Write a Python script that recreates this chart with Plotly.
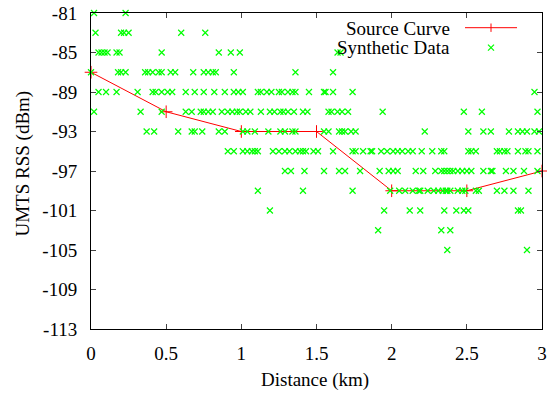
import plotly.graph_objects as go

# Source curve
src_x = [0, 0.5, 1.0, 1.5, 2.0, 2.5, 3.0]
src_y = [-87, -91, -93, -93, -99, -99, -97]

# Synthetic data, grouped by RSS level (dBm): distances (km)
syn_rows = {
    -81: [0.02, 0.23],
    -83: [0.03, 0.20, 0.22, 0.25, 0.60, 0.76],
    -85: [0.05, 0.07, 0.09, 0.11, 0.17, 0.19, 0.47, 0.85, 0.93, 0.99, 1.64, 1.66],
    -87: [0.0, 0.18, 0.20, 0.23, 0.36, 0.38, 0.41, 0.45, 0.47, 0.53, 0.56, 0.68,
          0.75, 0.78, 0.81, 0.83, 0.95, 1.36, 1.61],
    -89: [0.05, 0.10, 0.17, 0.31, 0.41, 0.43, 0.47, 0.51, 0.54, 0.63, 0.69, 0.75,
          0.82, 0.89, 0.95, 0.98, 1.01, 1.11, 1.13, 1.17, 1.20, 1.25, 1.27, 1.31,
          1.34, 1.36, 1.45, 1.55, 1.56, 1.61, 1.74, 2.95],
    -91: [0.02, 0.33, 0.47, 0.63, 0.67, 0.73, 0.75, 0.78, 0.81, 0.87, 0.91, 0.94,
          0.97, 0.99, 1.03, 1.06, 1.13, 1.19, 1.22, 1.26, 1.28, 1.31, 1.35, 1.41,
          1.44, 1.58, 1.60, 1.64, 1.67, 1.71, 1.94, 2.48, 2.60, 2.97],
    -93: [0.37, 0.42, 0.58, 0.67, 0.69, 0.74, 0.85, 0.89, 1.01, 1.04, 1.09, 1.18,
          1.26, 1.29, 1.34, 1.36, 1.55, 1.58, 1.65, 1.67, 1.69, 1.73, 1.76, 2.22,
          2.51, 2.61, 2.66, 2.78, 2.84, 2.87, 2.90, 2.95, 2.98],
    -95: [0.91, 0.95, 1.01, 1.04, 1.07, 1.09, 1.11, 1.21, 1.25, 1.29, 1.32, 1.36,
          1.39, 1.41, 1.43, 1.48, 1.51, 1.61, 1.74, 1.76, 1.81, 1.86, 1.87, 1.93,
          1.97, 2.01, 2.04, 2.07, 2.11, 2.14, 2.20, 2.27, 2.33, 2.35, 2.51, 2.53,
          2.56, 2.70, 2.72, 2.75, 2.77, 2.84, 2.89, 2.91, 2.97],
    -97: [1.29, 1.33, 1.42, 1.55, 1.65, 1.69, 1.79, 1.92, 1.98, 2.01, 2.04, 2.16,
          2.21, 2.29, 2.33, 2.35, 2.37, 2.39, 2.41, 2.44, 2.47, 2.50, 2.53, 2.61,
          2.66, 2.67, 2.76, 2.81, 2.88, 2.97],
    -99: [1.11, 1.41, 1.74, 1.99, 2.05, 2.09, 2.14, 2.18, 2.19, 2.24, 2.28, 2.31,
          2.34, 2.36, 2.37, 2.39, 2.44, 2.47, 2.49, 2.56, 2.58, 2.70, 2.75, 2.81,
          2.91],
    -101: [1.19, 1.95, 2.12, 2.19, 2.35, 2.43, 2.48, 2.51, 2.84, 2.86],
    -103: [1.91, 2.33, 2.39],
    -105: [2.37, 2.90],
}

x_ticks = [0, 0.5, 1, 1.5, 2, 2.5, 3]
x_tick_text = ["0", "0.5", "1", "1.5", "2", "2.5", "3"]
y_ticks = [-113, -109, -105, -101, -97, -93, -89, -85, -81]

syn_x = []
syn_y = []
for level, xs in syn_rows.items():
    syn_x.extend(xs)
    syn_y.extend([level] * len(xs))

FONT = "Liberation Serif"
W, H = 547, 394
ML, MR, MT, MB = 91, 5, 13, 65
PW, PH = W - ML - MR, H - MT - MB


def px(xp):
    return (xp - ML) / PW


def py(yp):
    return (H - MB - yp) / PH


fig = go.Figure()
fig.add_trace(go.Scatter(
    x=src_x, y=src_y, mode="lines+markers", name="Source Curve",
    line=dict(color="#ff0000", width=1),
    marker=dict(symbol="cross-thin", size=9, line=dict(color="#ff0000", width=1)),
    showlegend=False, cliponaxis=False,
))
fig.add_trace(go.Scatter(
    x=syn_x, y=syn_y, mode="markers", name="Synthetic Data",
    marker=dict(symbol="x-thin", size=6, line=dict(color="#00ff00", width=1.2)),
    showlegend=False, cliponaxis=False,
))

axis_common = dict(
    showgrid=False, zeroline=False, showline=True, linecolor="black", linewidth=1,
    mirror="allticks", ticks="inside", ticklen=5, tickcolor="#444444", tickwidth=1,
    tickfont=dict(family=FONT, size=19, color="black"),
    ticklabeloverflow="allow", automargin=False,
)
fig.update_xaxes(range=[0, 3], tickvals=x_ticks, ticktext=x_tick_text,
                 ticklabelstandoff=7, **axis_common)
fig.update_yaxes(range=[-113, -81], tickvals=y_ticks,
                 ticktext=[str(v) for v in y_ticks], ticklabelstandoff=9, **axis_common)

annotations = [
    dict(text="Distance (km)", x=px(314.5), y=py(380), xref="paper", yref="paper",
         showarrow=False, xanchor="center", yanchor="middle",
         font=dict(family=FONT, size=19, color="black")),
    dict(text="UMTS RSS (dBm)", x=px(22), y=py(163.5), xref="paper", yref="paper",
         showarrow=False, textangle=-90, xanchor="center", yanchor="middle",
         font=dict(family=FONT, size=19, color="black")),
    dict(text="Source Curve", x=px(452), y=py(28), xref="paper", yref="paper",
         showarrow=False, xanchor="right", yanchor="middle",
         font=dict(family=FONT, size=19, color="black")),
    dict(text="Synthetic Data", x=px(452), y=py(47.5), xref="paper", yref="paper",
         showarrow=False, xanchor="right", yanchor="middle",
         font=dict(family=FONT, size=19, color="black")),
]

shapes = [
    dict(type="line", xref="paper", yref="paper", x0=px(465), x1=px(517),
         y0=py(27.7), y1=py(27.7), line=dict(color="#ff0000", width=1)),
    dict(type="line", xref="paper", yref="paper", x0=px(491), x1=px(491),
         y0=py(23.5), y1=py(31.9), line=dict(color="#ff0000", width=1)),
    dict(type="line", xref="paper", yref="paper", x0=px(488), x1=px(494),
         y0=py(44.7), y1=py(50.7), line=dict(color="#00ff00", width=1.2)),
    dict(type="line", xref="paper", yref="paper", x0=px(488), x1=px(494),
         y0=py(50.7), y1=py(44.7), line=dict(color="#00ff00", width=1.2)),
]

fig.update_layout(
    width=W, height=H,
    margin=dict(l=ML, r=MR, t=MT, b=MB),
    paper_bgcolor="white", plot_bgcolor="white",
    annotations=annotations, shapes=shapes,
    font=dict(family=FONT, color="black"),
    hovermode=False,
)

fig.write_html(
    "out.html",
    config={"displayModeBar": False, "staticPlot": True},
    post_script="document.body.style.margin='0';document.body.style.padding='0';",
)
